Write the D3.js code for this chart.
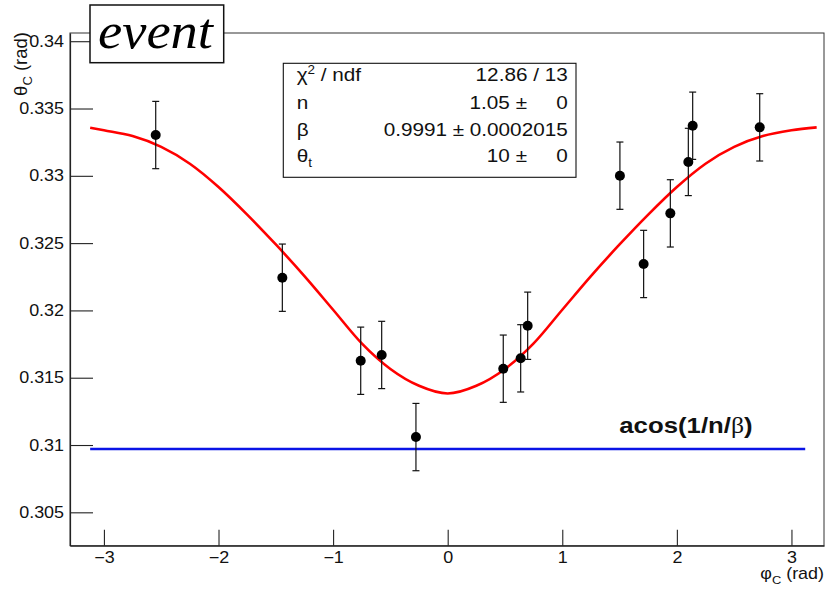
<!DOCTYPE html>
<html>
<head>
<meta charset="utf-8">
<script src="https://cdn.jsdelivr.net/npm/d3@7"></script>
<style>
  body { margin: 0; background: #fff; }
  svg { display: block; }
  text { font-family: "Liberation Sans", Arial, Helvetica, sans-serif; fill: #111; }
</style>
</head>
<body>
<svg id="chart" width="825" height="591"></svg>
<script>
// Measured Cherenkov angle per event vs azimuth
const phiC     = [-2.548, -1.443, -0.759, -0.576, -0.277, 0.485, 0.637, 0.698, 1.503, 1.710, 1.943, 2.100, 2.138, 2.723];
const thetaC   = [0.33303, 0.32243, 0.31626, 0.31669, 0.31059, 0.31567, 0.31644, 0.31886, 0.33001, 0.32345, 0.32721, 0.33103, 0.33372, 0.33360];
const thetaErr = [0.0025, 0.0025, 0.0025, 0.0025, 0.0025, 0.0025, 0.0025, 0.0025, 0.0025, 0.0025, 0.0025, 0.0025, 0.0025, 0.0025];

// Fitted curve, sampled along phi
const fitPhi   = [-3.12, -3.0, -2.75, -2.5, -2.25, -2.0, -1.75, -1.5, -1.25, -1.0, -0.75, -0.5, -0.25, 0,
                  0.25, 0.5, 0.75, 1.0, 1.25, 1.5, 1.75, 2.0, 2.25, 2.5, 2.75, 3.0, 3.22];
const fitTheta = [0.33357, 0.33338, 0.33295, 0.33215, 0.33090, 0.32917, 0.32712, 0.32490, 0.32255, 0.32005, 0.31755, 0.31565, 0.31440, 0.31383,
                  0.31440, 0.31565, 0.31755, 0.32005, 0.32255, 0.32490, 0.32712, 0.32917, 0.33090, 0.33215, 0.33295, 0.33338, 0.33360];

// Threshold angle acos(1/n/beta)
const thresholdTheta = 0.3097;
const thresholdPhi = [-3.12, 3.12];

// Axis ticks
const xTicks = [-3, -2, -1, 0, 1, 2, 3];
const xTickLabels = ["\u22123", "\u22122", "\u22121", "0", "1", "2", "3"];
const yTicks = [0.305, 0.31, 0.315, 0.32, 0.325, 0.33, 0.335, 0.34];
const yTickLabels = ["0.305", "0.31", "0.315", "0.32", "0.325", "0.33", "0.335", "0.34"];

// Fit statistics
const statValues = ["12.86 / 13", "1.05 \u00b1", "0.9991 \u00b1 0.0002015", "10 \u00b1"];
const statErrors = [null, "0", null, "0"];

const svg = d3.select("#chart");
const frame = { left: 70, right: 824, top: 33, bottom: 545.7 };
const SX = 1.12; // horizontal glyph stretch
const SERIF = "'Liberation Serif', 'Times New Roman', serif";

const x = d3.scaleLinear().domain([-3.296, 3.284]).range([frame.left, frame.right]);
const y = d3.scaleLinear().domain([0.30252, 0.34061]).range([frame.bottom, frame.top]);

// Frame
svg.append("rect")
  .attr("x", frame.left).attr("y", frame.top)
  .attr("width", frame.right - frame.left).attr("height", frame.bottom - frame.top)
  .attr("fill", "none").attr("stroke", "#333").attr("stroke-width", 1);

// Y axis: major + minor ticks pointing inward
const yMinor = d3.range(303, 341).filter(v => v % 5 !== 0).map(v => v / 1000);
const yAxisG = svg.append("g").attr("transform", `translate(${frame.left},0)`);
yAxisG.call(d3.axisLeft(y).tickValues(yMinor).tickSizeInner(-12).tickSizeOuter(0).tickFormat(""));
yAxisG.call(d3.axisLeft(y).tickValues(yTicks).tickSizeInner(-23).tickSizeOuter(0).tickPadding(6)
  .tickFormat((d, i) => yTickLabels[i]));

// X axis
const xMinor = d3.range(-16, 17).filter(v => v % 5 !== 0).map(v => v / 5);
const xAxisG = svg.append("g").attr("transform", `translate(0,${frame.bottom})`);
xAxisG.call(d3.axisBottom(x).tickValues(xMinor).tickSizeInner(-8).tickSizeOuter(0).tickFormat(""));
xAxisG.call(d3.axisBottom(x).tickValues(xTicks).tickSizeInner(-16).tickSizeOuter(0).tickPadding(5.6)
  .tickFormat((d, i) => xTickLabels[i]));

svg.selectAll(".domain").attr("stroke", "#222").attr("stroke-width", 1.2);
svg.selectAll(".tick line").attr("stroke", "#222").attr("stroke-width", 1.1);
svg.selectAll(".tick text")
  .style("font-family", "'Liberation Sans', Arial, sans-serif")
  .attr("font-size", 16).attr("fill", "#111");
yAxisG.selectAll(".tick text").attr("x", -6 / SX).attr("transform", `scale(${SX},1)`);
xAxisG.selectAll(".tick text").attr("transform", `scale(${SX},1)`);

// Threshold line
svg.append("line")
  .attr("x1", x(thresholdPhi[0])).attr("x2", x(thresholdPhi[1]))
  .attr("y1", y(thresholdTheta)).attr("y2", y(thresholdTheta))
  .attr("stroke", "#0a14e6").attr("stroke-width", 2.6);

// Fit curve
const fitLine = d3.line()
  .x((d, i) => x(fitPhi[i]))
  .y(d => y(d))
  .curve(d3.curveMonotoneX);
svg.append("path")
  .attr("d", fitLine(fitTheta))
  .attr("fill", "none").attr("stroke", "#f00").attr("stroke-width", 2.6);

// Data points with error bars
const pts = svg.append("g");
phiC.forEach((p, i) => {
  const cx = x(p), lo = y(thetaC[i] - thetaErr[i]), hi = y(thetaC[i] + thetaErr[i]);
  const g = pts.append("g").attr("stroke", "#111").attr("stroke-width", 1.2);
  g.append("line").attr("x1", cx).attr("x2", cx).attr("y1", lo).attr("y2", hi);
  g.append("line").attr("x1", cx - 3.5).attr("x2", cx + 3.5).attr("y1", lo).attr("y2", lo);
  g.append("line").attr("x1", cx - 3.5).attr("x2", cx + 3.5).attr("y1", hi).attr("y2", hi);
  pts.append("circle").attr("cx", cx).attr("cy", y(thetaC[i])).attr("r", 5).attr("fill", "#000");
});

// Helper for horizontally stretched text
function stext(parent, tx, ty, anchor, size, weight) {
  return parent.append("text")
    .attr("transform", `translate(${tx},${ty}) scale(${SX},1)`)
    .attr("text-anchor", anchor)
    .attr("font-size", size)
    .attr("font-weight", weight || "normal");
}

// Statistics box
const sb = { x: 283.3, y: 63.3, w: 292.7, h: 114 };
svg.append("rect").attr("x", sb.x).attr("y", sb.y).attr("width", sb.w).attr("height", sb.h)
  .attr("fill", "#fff").attr("stroke", "#111").attr("stroke-width", 1.1);
const rowBase = [81, 109, 136, 162];
const statFont = 18.5;
let t = stext(svg, 296.7, rowBase[0], "start", statFont);
t.append("tspan").text("\u03c7");
t.append("tspan").attr("dy", -7).attr("font-size", 12).text("2");
t.append("tspan").attr("dy", 7).text(" / ndf");
stext(svg, 296.7, rowBase[1], "start", statFont).text("n");
stext(svg, 296.7, rowBase[2], "start", statFont).text("\u03b2");
t = stext(svg, 296.7, rowBase[3], "start", statFont);
t.append("tspan").text("\u03b8");
t.append("tspan").attr("dy", 5).attr("font-size", 12).text("t");
statValues.forEach((v, i) => {
  if (statErrors[i] === null) {
    stext(svg, 567.7, rowBase[i], "end", statFont).text(v);
  } else {
    stext(svg, 527, rowBase[i], "end", statFont).text(v);
    stext(svg, 567.7, rowBase[i], "end", statFont).text(statErrors[i]);
  }
});

// Threshold label
t = stext(svg, 619.3, 433, "start", 23, "bold");
t.append("tspan").text("acos(1/n/");
t.append("tspan").style("font-family", SERIF).attr("font-weight", "normal").text("\u03b2");
t.append("tspan").text(")");

// Axis titles
t = stext(svg, 824, 579, "end", 16);
t.append("tspan").text("\u03c6");
t.append("tspan").attr("dy", 5).attr("font-size", 11.5).text("C");
t.append("tspan").attr("dy", -5).text(" (rad)");

t = svg.append("text")
  .attr("transform", "translate(27,32) rotate(-90)")
  .attr("text-anchor", "end").attr("font-size", 18.5);
t.append("tspan").text("\u03b8");
t.append("tspan").attr("dy", 5).attr("font-size", 13).text("C");
t.append("tspan").attr("dy", -5).text(" (rad)");

// Title box
svg.append("rect").attr("x", 90).attr("y", 5).attr("width", 133.7).attr("height", 57.7)
  .attr("fill", "#fff").attr("stroke", "#111").attr("stroke-width", 1.5);
svg.append("text")
  .attr("x", 98).attr("y", 48)
  .style("font-family", SERIF)
  .style("font-style", "italic")
  .attr("font-size", 50)
  .attr("textLength", 115).attr("lengthAdjust", "spacingAndGlyphs")
  .style("fill", "#000")
  .text("event");
</script>
</body>
</html>
